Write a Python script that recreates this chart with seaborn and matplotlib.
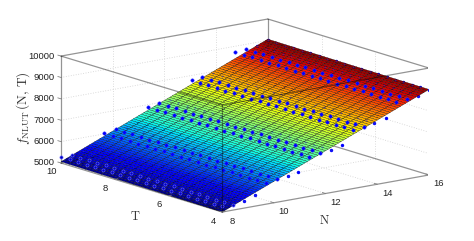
import numpy as np
import matplotlib
matplotlib.use("Agg")
import matplotlib.pyplot as plt
import seaborn as sns
from mpl_toolkits.mplot3d import proj3d

# surface mesh
surf_n = [8.0, 8.1, 8.2, 8.3, 8.4, 8.5, 8.6, 8.7, 8.8, 8.9, 9.0, 9.1, 9.2, 9.3, 9.4, 9.5, 9.6, 9.7, 9.8, 9.9,
          10.0, 10.1, 10.2, 10.3, 10.4, 10.5, 10.6, 10.7, 10.8, 10.9, 11.0, 11.1, 11.2, 11.3, 11.4, 11.5, 11.6,
          11.7, 11.8, 11.9, 12.0, 12.1, 12.2, 12.3, 12.4, 12.5, 12.6, 12.7, 12.8, 12.9, 13.0, 13.1, 13.2, 13.3,
          13.4, 13.5, 13.6, 13.7, 13.8, 13.9, 14.0, 14.1, 14.2, 14.3, 14.4, 14.5, 14.6, 14.7, 14.8, 14.9, 15.0,
          15.1, 15.2, 15.3, 15.4, 15.5, 15.6, 15.7, 15.8, 15.9, 16.0]
surf_f = [5000, 5050, 5100, 5150, 5200, 5250, 5300, 5350, 5400, 5450, 5500, 5550, 5600, 5650, 5700, 5750, 5800,
          5850, 5900, 5950, 6000, 6050, 6100, 6150, 6200, 6250, 6300, 6350, 6400, 6450, 6500, 6550, 6600, 6650,
          6700, 6750, 6800, 6850, 6900, 6950, 7000, 7050, 7100, 7150, 7200, 7250, 7300, 7350, 7400, 7450, 7500,
          7550, 7600, 7650, 7700, 7750, 7800, 7850, 7900, 7950, 8000, 8050, 8100, 8150, 8200, 8250, 8300, 8350,
          8400, 8450, 8500, 8550, 8600, 8650, 8700, 8750, 8800, 8850, 8900, 8950, 9000]
surf_t = [4.0, 4.3, 4.6, 4.9, 5.2, 5.5, 5.8, 6.1, 6.4, 6.7, 7.0, 7.3, 7.6, 7.9, 8.2, 8.5, 8.8, 9.1, 9.4, 9.7, 10.0]
surf_t_gain = [0, 3, 6, 9, 12, 15, 18, 21, 24, 27, 30, 33, 36, 39, 42, 45, 48, 51, 54, 57, 60]

# measured points, 20 x 20 lattice
dot_n = [8.0, 8.42, 8.84, 9.26, 9.68, 10.11, 10.53, 10.95, 11.37, 11.79, 12.21, 12.63, 13.05, 13.47, 13.89, 14.32,
         14.74, 15.16, 15.58, 16.0]
dot_f = [5260, 5250, 5332, 5523, 6000, 6095, 6121, 6234, 6855, 6950, 6990, 7130, 7745, 7795, 7888, 8020, 8690,
         8745, 8800, 8972]
dot_t = [4.0, 4.32, 4.63, 4.95, 5.26, 5.58, 5.89, 6.21, 6.53, 6.84, 7.16, 7.47, 7.79, 8.11, 8.42, 8.74, 9.05, 9.37,
         9.68, 10.0]
dot_t_gain = [0, 2, 3, 5, 6, 8, 9, 11, 13, 14, 16, 17, 19, 21, 22, 24, 25, 27, 28, 30]

# which of the rows above sit over the surface / just poke through it
rows_ring = [0, 1]
rows_top = [4, 5, 8, 9, 12, 13, 16, 17]
rows_faint = [2, 3, 6, 10, 14, 18, 19]
rows_under = [2, 3, 6, 7, 10, 11, 14, 15, 18, 19]

n_ticks = [8, 10, 12, 14, 16]
t_ticks = [4, 6, 8, 10]
f_ticks = [5000, 6000, 7000, 8000, 9000, 10000]

sns.set_style("white")
plt.rcParams['font.family'] = ['Liberation Sans', 'DejaVu Sans']
plt.rcParams['mathtext.fontset'] = 'cm'

fig = plt.figure(figsize=(4.74, 2.41), dpi=100)
H = 200.0
ax = fig.add_axes([0.1, 0.1, H * 4 / 3 / 474, H / 241], projection='3d', computed_zorder=False)
ax.set_proj_type('ortho')
ax.view_init(elev=13.5, azim=-127.5)
ax.set_box_aspect((260.8, 264.8, 110))
ax.set_xlim(8, 16)
ax.set_ylim(4, 10)
ax.set_zlim(5000, 10000)
ax.set_axis_off()
ax.patch.set_alpha(0)


def to_px(n, t, f):
    x2, y2, _ = proj3d.proj_transform(n, t, f, ax.get_proj())
    return ax.transData.transform((x2, y2))


# fit the box to the reference corners
ax.apply_aspect()
a = to_px(8, 10, 5000)
b = to_px(16, 4, 5000)
scale = (429 - 61) / (b[0] - a[0])
W, H = H * 4 / 3 * scale, H * scale
ax.set_position([0.1, 0.1, W / 474, H / 241])
ax.apply_aspect()
a = to_px(8, 10, 5000)
ax.set_position([0.1 + (61 - a[0]) / 474, 0.1 + ((241 - 163) - a[1]) / 241, W / 474, H / 241])
ax.apply_aspect()

grey = dict(color='#d0d0d0', lw=0.6, ls=(0, (1, 2)), zorder=1)
for n in n_ticks[1:-1]:
    ax.plot([n, n], [10, 10], [5000, 10000], **grey)
    ax.plot([n, n], [4, 10], [5000, 5000], **grey)
for t in t_ticks[1:-1]:
    ax.plot([16, 16], [t, t], [5000, 10000], **grey)
    ax.plot([8, 16], [t, t], [5000, 5000], **grey)
for f in f_ticks[1:-1]:
    ax.plot([8, 16], [10, 10], [f, f], **grey)
    ax.plot([16, 16], [4, 10], [f, f], **grey)

# back edges of the box, behind everything
back = dict(color='k', alpha=0.42, lw=0.9, zorder=1)
ax.plot([8, 16], [10, 10], [5000, 5000], **back)
ax.plot([16, 16], [10, 4], [5000, 5000], **back)
ax.plot([16, 16], [10, 10], [5000, 10000], **back)
ax.plot([8, 16], [10, 10], [10000, 10000], **back)
ax.plot([16, 16], [10, 4], [10000, 10000], **back)
ax.plot([8, 8], [10, 10], [5000, 10000], **back)
ax.plot([16, 16], [4, 4], [5000, 10000], **back)


def lattice(rows):
    nn, tt = np.meshgrid([dot_n[i] for i in rows], dot_t, indexing='ij')
    ff = np.array([dot_f[i] for i in rows])[:, None] + np.array(dot_t_gain)[None, :]
    return nn.ravel(), tt.ravel(), ff.ravel()


ax.scatter(*lattice(rows_under), s=6, c='#0000ff', linewidths=0, depthshade=False, zorder=2)

N, T = np.meshgrid(surf_n, surf_t)
F = np.array(surf_f)[None, :] + np.array(surf_t_gain)[:, None]
ax.plot_surface(N, T, F, rstride=1, cstride=1, cmap='jet', vmin=5000, vmax=9060, shade=False,
                edgecolor='k', linewidth=0.2, antialiased=True, zorder=3)

ax.scatter(*lattice(rows_faint), s=2, c='#3a3ad0', alpha=0.45, linewidths=0, depthshade=False, zorder=4)
ax.scatter(*lattice(rows_top), s=6, c='#0000ff', edgecolors='#3030ff', linewidths=0.3, depthshade=False, zorder=4)
ax.scatter(*lattice(rows_ring), s=5, c='#0000c0', edgecolors='#5a5aff', linewidths=0.5, depthshade=False, zorder=4)

# front edges go over the surface
front = dict(color='k', alpha=0.42, lw=0.9, zorder=5)
ax.plot([8, 8], [4, 4], [5000, 10000], **front)
ax.plot([8, 8], [10, 4], [10000, 10000], **front)
ax.plot([8, 16], [4, 4], [10000, 10000], **front)
ax.plot([8, 8], [10, 4], [5000, 5000], **front)
ax.plot([8, 16], [4, 4], [5000, 5000], **front)

# ticks and their labels
lab = dict(fontsize=6.8, color='#222222', ha='center', va='center')
for n in n_ticks:
    ax.plot([n, n], [4, 4.12], [5000, 5000], color='#808080', lw=0.6, zorder=5)
    p = to_px(n, 4, 5000)
    fig.text((p[0] + 10) / 474, (p[1] - 9) / 241, str(n), **lab)
for t in t_ticks:
    ax.plot([8, 8.12], [t, t], [5000, 5000], color='#808080', lw=0.6, zorder=5)
    p = to_px(8, t, 5000)
    fig.text((p[0] - 9) / 474, (p[1] - 9) / 241, str(t), **lab)
for f in f_ticks:
    ax.plot([8, 8], [10, 10.12], [f, f], color='#808080', lw=0.6, zorder=5)
    p = to_px(8, 10, f)
    fig.text((p[0] - 6) / 474, p[1] / 241, str(f), fontsize=6.8, color='#222222', ha='right', va='center')

fig.text(135 / 474, 1 - 216 / 241, r'$\mathrm{T}$', fontsize=9, ha='center', va='center', color='#333333')
fig.text(324 / 474, 1 - 221 / 241, r'$\mathrm{N}$', fontsize=9, ha='center', va='center', color='#333333')
fig.text(23 / 474, 1 - 108 / 241, r'$f_{\mathrm{NLUT}}\,(\mathrm{N},\,\mathrm{T})$', fontsize=9.5, rotation=90,
         ha='center', va='center', color='#333333')

fig.savefig('out.png', dpi=100)
